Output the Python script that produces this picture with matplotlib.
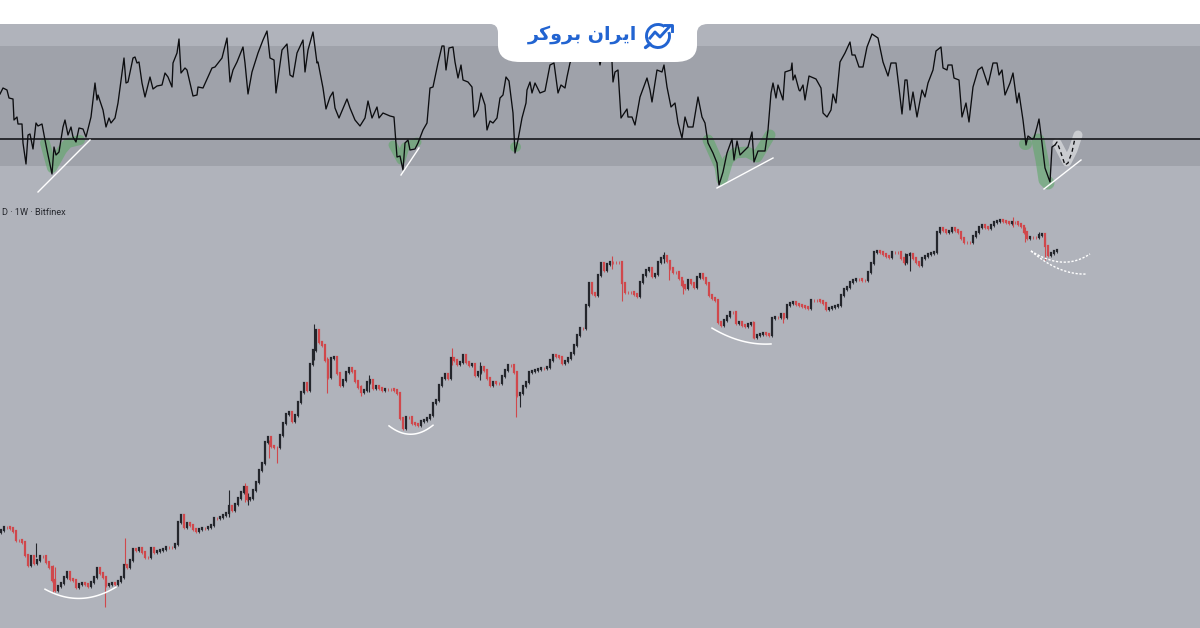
import numpy as np
import matplotlib
matplotlib.use('Agg')
import matplotlib.pyplot as plt
from matplotlib.path import Path
from matplotlib.patches import PathPatch, Arc, Rectangle

rsi_x = [0,3,7,9,13,14,17,18,22,23,26,28,30,33,36,38,42,45,48,52,54,56,59,63,65,68,71,73,76,79,83,86,91,95,97,98,103,106,109,111,115,118,122,124,126,128,133,135,137,139,142,145,150,153,157,162,165,168,172,173,177,179,181,185,187,193,197,198,203,212,215,222,227,230,233,237,243,245,248,252,258,263,267,270,274,276,282,287,290,293,297,303,305,308,313,317,318,323,326,330,333,335,339,347,350,355,360,365,368,372,377,379,383,390,394,397,400,
         403,405,408,410,415,418,423,427,430,433,438,442,444,446,449,453,455,458,461,463,468,472,474,478,481,485,487,490,493,497,500,503,506,509,513,515,518,522,526,527,530,532,535,540,545,550,554,558,561,565,567,570,573,578,583,588,593,598,600,602,607,612,613,615,618,621,627,628,632,635,640,647,650,652,657,662,664,667,671,675,678,682,685,688,693,698,702,705,708,713,717,719,723,727,732,734,737,740,745,748,752,754,758,765,768,771,773,776,778,783,785,791,792,793,795,799,
         800,803,805,809,816,821,823,827,831,833,836,840,845,850,852,855,859,863,867,872,878,883,888,891,896,899,902,905,907,910,913,917,922,925,928,933,936,941,943,947,948,952,954,959,962,966,969,973,978,982,988,993,997,999,1002,1005,1010,1013,1017,1019,1023,1026,1028,1032,1034,1037,1039,1042,1045,1050,1052,1055]
rsi_y = [94,88,90,98,99,120,117,124,124,143,164,135,134,149,123,126,124,140,155,174,147,155,152,127,120,135,127,137,142,128,129,137,117,83,100,95,110,127,118,123,118,103,73,58,83,82,58,57,63,62,83,97,77,89,86,85,73,77,87,63,53,39,73,68,70,96,95,87,88,68,67,58,38,82,70,62,47,63,94,72,53,40,31,58,60,93,50,44,75,77,53,40,72,50,32,63,62,88,109,97,92,108,118,99,108,120,126,118,101,118,107,118,113,116,117,157,156,
         170,143,140,150,149,143,130,123,88,87,63,46,46,70,48,47,62,78,65,80,82,87,117,110,93,105,130,121,123,118,98,95,77,81,113,153,140,118,103,90,82,93,83,93,91,65,63,93,85,88,77,63,55,44,50,38,47,52,65,55,48,62,82,72,70,118,109,117,117,125,97,78,90,102,70,72,65,87,107,103,123,138,117,127,127,97,117,123,143,153,163,185,172,153,139,160,141,155,150,147,132,162,151,151,130,93,83,98,85,100,72,70,63,80,75,90,
         91,85,100,76,79,88,113,117,110,94,103,62,53,42,55,55,67,67,47,34,38,62,76,63,63,88,114,80,80,110,92,117,90,97,83,70,51,47,68,70,65,65,78,80,117,103,122,87,70,67,85,63,63,75,70,95,83,73,103,93,120,145,136,139,138,127,119,143,168,182,147,145]
rsi_proj_x = [1055,1057,1060,1065,1068,1072,1075]
rsi_proj_y = [145,142,150,165,163,152,138]

# weekly closes, one candle per entry
closes = [530,527,527,528,531,540,540,542,555,565,556,563,560,556,556,562,567,580,590,586,583,577,572,579,580,587,584,583,584,586,582,577,568,573,577,585,584,583,584,581,577,565,567,560,549,550,548,552,557,557,548,552,551,550,549,547,547,547,544,522,515,527,523,525,529,531,529,528,528,527,525,518,518,517,515,513,506,510,504,498,492,487,499,498,490,482,470,463,442,437,446,447,447,435,423,414,412,421,415,402,392,383,390,364,350,330,342,345,360,377,358,357,373,385,380,372,368,371,381,387,392,390,382,380,388,386,388,390,389,389,389,390,393,418,428,417,417,423,424,425,421,420,418,415,403,400,385,378,374,378,358,360,364,362,355,362,365,364,375,372,367,370,378,385,382,383,383,376,370,365,365,372,395,393,386,382,372,371,370,369,368,368,367,360,355,356,357,363,361,358,353,345,335,328,328,305,283,293,295,275,263,270,264,262,262,262,262,283,292,292,292,294,296,282,275,270,268,276,274,262,258,256,261,268,272,272,278,285,288,280,283,287,277,274,278,283,295,298,300,322,325,320,316,312,312,323,322,325,326,324,323,337,335,334,333,334,335,318,317,317,314,317,305,303,302,304,305,306,307,308,300,300,300,301,303,309,308,307,306,305,295,289,287,282,280,279,279,280,280,272,263,252,251,252,254,256,257,252,252,252,258,262,255,254,258,262,265,258,256,254,253,252,232,228,230,232,231,228,230,232,238,242,242,242,236,232,227,225,227,228,225,222,221,220,221,222,223,222,222,224,226,232,238,237,237,237,235,234,246,255,253,251,250]
first_open = 532
# the long wicks that stand out
wick_x = [36,53,55,105,125,229,245,248,269,277,314,327,361,369,452,480,516,520,612,622,664,669,683,753,783,905,910,1013,1025,1039,1045]
wick_top = [543,565,567,577,538,490,483,493,440,447,324,357,385,375,348,362,377,395,256,270,252,263,280,321,313,253,252,217,227,232,237]
wick_bottom = [557,592,587,607,565,517,502,505,458,463,360,393,396,392,365,380,417,407,269,301,263,280,294,338,323,265,271,227,242,238,260]

support_lines = [((38,90),(192,140)), ((401,419),(175,148)), ((717,773),(188,158)), ((1044,1081),(189,160))]
arc_lows = [([45,57,80,100,116],[589,595,598,595,587]),
            ([389,400,412,423,433],[426,432,434,432,425]),
            ([712,727,747,771],[328,336,342,344])]
dotted_x = [[1031,1040,1057,1073,1087],[1031,1043,1057,1073,1090]]
dotted_y = [[251,258,268,273,274],[251,257,262,261,254]]
green_marks = [([45,52,62,68,80],[143,168,150,143,140],10),
               ([393,401,405,417],[145,160,147,142],9),
               ([515,515.5],[147,147],10),
               ([708,720,722,728,735,747,757,767,770],[140,167,180,160,153,152,157,140,135],11),
               ([1025,1025.5],[144,144],12),
               ([1038,1042,1045,1048],[140,160,180,183],13)]
grey_mark = ([1057,1067,1073,1078],[143,162,150,135])

BG = '#b0b3bb'
BAND = '#9fa2aa'
RED = '#d0484c'
DARK = '#24262c'
BLUE = '#2264d1'

plt.rcParams['font.family'] = ['DejaVu Sans']
fig = plt.figure(figsize=(12, 6.28), dpi=100, facecolor='white')
ax = fig.add_axes([0, 0, 1, 1])
ax.set_xlim(0, 1200)
ax.set_ylim(628, 0)
ax.axis('off')

ax.add_patch(Rectangle((0, 24), 1200, 604, color=BG, lw=0, zorder=0))
ax.add_patch(Rectangle((0, 46), 1200, 120, color=BAND, lw=0, zorder=1))

# highlights under the rsi line
for gx, gy, w in green_marks:
    ax.plot(gx, gy, color='#58a862', alpha=0.55, lw=w * 0.72, solid_capstyle='round', solid_joinstyle='round', zorder=2)
ax.plot(grey_mark[0], grey_mark[1], color='#cfd1d5', alpha=0.9, lw=6.5, solid_capstyle='round', zorder=2)

ax.axhline(138.5, color='#15161a', lw=1.2, zorder=3)
ax.plot(rsi_x, rsi_y, color='#0c0d10', lw=0.95, zorder=4)
ax.plot(rsi_proj_x, rsi_proj_y, color='#0c0d10', lw=0.95, ls=(0, (3, 2.5)), zorder=4)

for sx, sy in support_lines:
    ax.plot(sx, sy, color='white', lw=1.0, zorder=5)

# candles
closes_arr = np.array(closes, dtype=float)
opens_arr = np.r_[first_open, closes_arr[:-1]]
candle_x = np.arange(len(closes)) * 3.0 + 1
up = closes_arr < opens_arr   # y axis runs downward
wick_color = [RED if c else DARK for c in (np.isin(np.round(np.array(wick_x) / 3), np.where(~up)[0]))]
ax.vlines(wick_x, wick_top, wick_bottom, colors=wick_color, lw=0.8, zorder=5)
ax.vlines(candle_x[up], closes_arr[up] - 1.5, opens_arr[up] + 1.5, colors=DARK, lw=0.6, zorder=5)
ax.vlines(candle_x[~up], opens_arr[~up] - 1.5, closes_arr[~up] + 1.5, colors=RED, lw=0.6, zorder=5)
ax.vlines(candle_x[up], opens_arr[up], closes_arr[up], colors=DARK, lw=1.6, capstyle='projecting', zorder=6)
ax.vlines(candle_x[~up], opens_arr[~up], closes_arr[~up], colors=RED, lw=1.6, capstyle='projecting', zorder=6)

# hand drawn curves
for ax_x, ax_y in arc_lows:
    fit = np.polyfit(ax_x, ax_y, 2)
    xs = np.linspace(ax_x[0], ax_x[-1], 40)
    ax.plot(xs, np.polyval(fit, xs), color='white', lw=1.1, zorder=7)
for dx, dy in zip(dotted_x, dotted_y):
    fit = np.polyfit(dx, dy, 3)
    xs = np.linspace(dx[0], dx[-1], 40)
    ax.plot(xs, np.polyval(fit, xs), color='white', lw=1.0, ls=(0, (1.6, 1.2)), zorder=7)

ax.text(66, 212.5, 'D · 1W · Bitfinex', ha='right', va='center', fontsize=6.6, family='Roboto', color='#26282e', zorder=7)

# logo card, open at the top
card = Path([(490, -2), (490, 24), (498, 24), (498, 33), (498, 45), (498, 62), (520, 62), (675, 62),
             (697, 62), (697, 45), (697, 33), (697, 24), (708, 24), (708, -2), (490, -2)],
            [Path.MOVETO, Path.LINETO, Path.CURVE3, Path.CURVE3, Path.LINETO, Path.CURVE3, Path.CURVE3, Path.LINETO,
             Path.CURVE3, Path.CURVE3, Path.LINETO, Path.CURVE3, Path.CURVE3, Path.LINETO, Path.CLOSEPOLY])
ax.add_patch(PathPatch(card, facecolor='white', edgecolor='none', zorder=8))
ax.add_patch(Rectangle((0, 0), 1200, 24, color='white', lw=0, zorder=8))

# ایران بروکر in contextual forms, reversed because matplotlib lays out left to right
logo_text = '\uFEAE\uFB90\uFEED\uFEAE\uFE91 \uFEE5\uFE8D\uFEAE\uFBFE\uFE8D'
ax.text(582, 34.5, logo_text, ha='center', va='center', fontsize=13.8, fontweight='bold', color=BLUE, zorder=9)

ax.add_patch(Arc((658, 36), 23, 23, theta1=-20, theta2=305, color=BLUE, lw=2.1, zorder=9))
ax.plot([650, 645.5], [44, 47.5], color=BLUE, lw=2.4, solid_capstyle='round', zorder=9)
ax.plot([650, 655, 660, 670], [38, 32, 37, 26], color=BLUE, lw=2.1, zorder=9)
ax.plot([664.5, 671.5, 671.5], [24.5, 24.5, 31], color=BLUE, lw=2.1, zorder=9)

fig.savefig('out.png', dpi=100, facecolor='white')
